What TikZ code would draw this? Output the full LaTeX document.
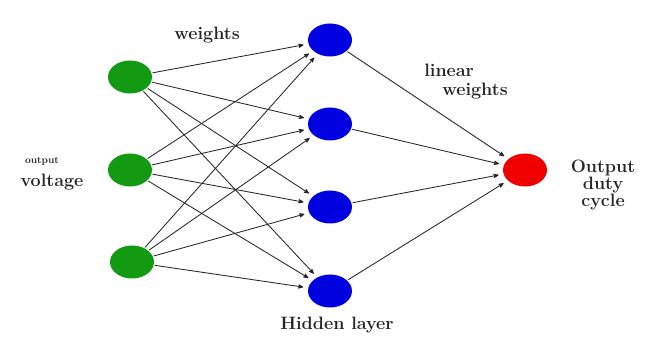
\documentclass[tikz,border=0pt]{standalone}
\usepackage[x11names, svgnames, rgb]{xcolor}
\usepackage{tikz}
\usetikzlibrary{arrows,shapes}

\definecolor{ingreen}{RGB}{18,155,18}
\definecolor{hidblue}{RGB}{0,0,225}
\definecolor{outred}{RGB}{240,0,0}

\begin{document}
\begin{tikzpicture}[>=stealth',line join=bevel,
  unit/.style={ellipse,inner sep=0pt,minimum width=44bp,minimum height=33bp},
  lbl/.style={font=\fontsize{18}{13}\selectfont\bfseries,text=black!85},
  wire/.style={->,draw=black!85,line width=0.85pt,shorten >=5pt,shorten <=1pt}]
\useasboundingbox (0bp,0bp) rectangle (654bp,349bp);
%%
\node (g1) at (130.0bp,272.0bp) [unit,fill=ingreen] {};
  \node (g2) at (130.0bp,179.0bp) [unit,fill=ingreen] {};
  \node (g3) at (132.0bp,87.0bp) [unit,fill=ingreen] {};
  \node (h1) at (330.0bp,309.0bp) [unit,fill=hidblue] {};
  \node (h2) at (330.0bp,225.0bp) [unit,fill=hidblue] {};
  \node (h3) at (330.0bp,142.0bp) [unit,fill=hidblue] {};
  \node (h4) at (330.0bp,58.0bp) [unit,fill=hidblue] {};
  \node (o) at (525.0bp,179.0bp) [unit,fill=outred] {};
%
\node (w) at (207.0bp,314.0bp) [lbl] {weights};
  \node (vo) at (42.0bp,188.0bp) [lbl,font=\fontsize{10}{11}\selectfont\bfseries] {output};
  \node (v) at (52.0bp,167.0bp) [lbl] {voltage};
  \node (lw) at (466.0bp,267.0bp) [lbl,align=left] {linear\\[6pt]\hspace*{18bp}weights};
  \node (od) at (603.0bp,164.0bp) [lbl,align=center] {Output\\duty\\cycle};
  \node (hl) at (337.0bp,24.0bp) [lbl] {Hidden layer};
%
\foreach \i in {g1,g2,g3}
  \foreach \j in {h1,h2,h3,h4}
    \draw [wire] (\i) -- (\j);
\foreach \j in {h1,h2,h3,h4}
  \draw [wire] (\j) -- (o);
%
\end{tikzpicture}
\end{document}
